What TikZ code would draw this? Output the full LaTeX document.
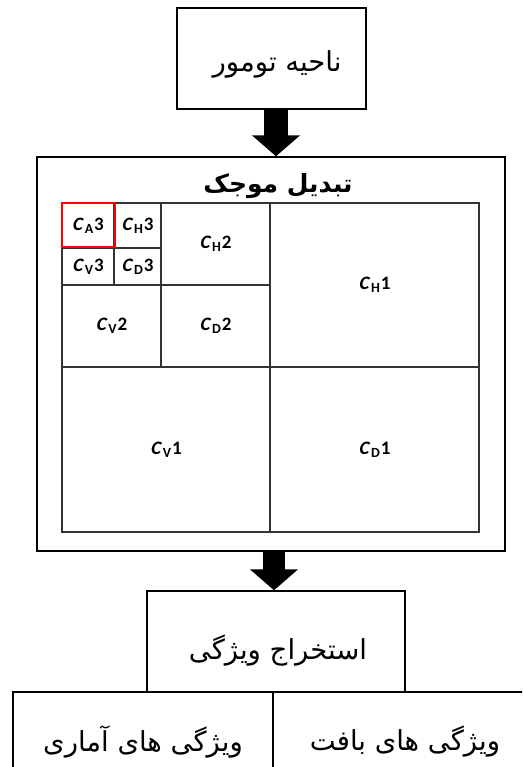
\documentclass[tikz,border=0pt]{standalone}
\usepackage{fontspec}
\usetikzlibrary{arrows.meta,calc}
\TeXXeTstate=1
\newfontfamily\fa[Script=Arabic]{DejaVu Sans}
\newfontfamily\cfont{Carlito}
\newfontfamily\cslant{Carlito}[UprightFeatures={FakeSlant=0.2}, BoldFeatures={FakeSlant=0.2}]
\newcommand{\cl}[2]{{\cfont\bfseries{\cslant\bfseries C}\kern2.6pt\raisebox{-0.3ex}{\fontsize{14}{14}\selectfont #1}\kern0.8pt#2}}
\tikzset{
  box/.style={draw=black, line width=1.4pt, inner sep=0pt},
  cell/.style={draw=black!80, line width=1.1pt, inner sep=0pt, font=\fontsize{19}{19}\selectfont},
  blockarrow/.style={line width=#1, -{Triangle[width=47pt,length=21pt]}},
  fatext/.style={font=\fa\fontsize{27.5}{30}\selectfont}
}
\begin{document}
\begin{tikzpicture}[x=1pt,y=-1pt]
\clip (0,0) rectangle (522,767);
\fill[white] (0,0) rectangle (522,767);
% top box
\node[box, minimum width=189pt, minimum height=101pt] (top) at (271.5,58.5) {};
\node[fatext] (topt) at (277,64) {\beginR ناحیه تومور\endR};
% big box
\node[box, minimum width=468pt, minimum height=394pt] (big) at (271,354) {};
\node[font=\fa\bfseries\fontsize{25}{28}\selectfont] (title) at (278,186) {\beginR تبدیل موجک\endR};
% cells
\node[cell, minimum width=52pt, minimum height=45pt] (ca3) at (88,225.5) {\cl{A}{3}};
\node[cell, minimum width=47pt, minimum height=45pt] (ch3) at (137.5,225.5) {\cl{H}{3}};
\node[cell, minimum width=52pt, minimum height=37pt] (cv3) at (88,266.5) {\cl{V}{3}};
\node[cell, minimum width=47pt, minimum height=37pt] (cd3) at (137.5,266.5) {\cl{D}{3}};
\node[cell, minimum width=109pt, minimum height=82pt] (ch2) at (215.5,244) {\cl{H}{2}};
\node[cell, minimum width=99pt, minimum height=82pt] (cv2) at (111.5,326) {\cl{V}{2}};
\node[cell, minimum width=109pt, minimum height=82pt] (cd2) at (215.5,326) {\cl{D}{2}};
\node[cell, minimum width=209pt, minimum height=164pt] (ch1) at (374.5,285) {\cl{H}{1}};
\node[cell, minimum width=208pt, minimum height=165pt] (cv1) at (166,449.5) {\cl{V}{1}};
\node[cell, minimum width=209pt, minimum height=165pt] (cd1) at (374.5,449.5) {\cl{D}{1}};
\node[draw=red, line width=2.8pt, minimum width=53pt, minimum height=44pt, inner sep=0pt] (red) at (88.5,225) {};
% feature box
\node[box, minimum width=258pt, minimum height=101pt] (feat) at (276,641.5) {};
\node[fatext] (featt) at (278,651) {\beginR استخراج ویژگی\endR};
\node[box, minimum width=260pt, minimum height=90pt] (stat) at (143,737) {};
\node[box, minimum width=260pt, minimum height=90pt] (tex) at (403,737) {};
\node[fatext] (statt) at (143,742) {\beginR ویژگی های آماری\endR};
\node[fatext] (text) at (405,742) {\beginR ویژگی های بافت\endR};
% arrows
\coordinate (a1s) at (276,0 |- top.south);
\coordinate (a1e) at (276,0 |- big.north);
\draw[blockarrow=24pt] (a1s) -- (a1e);
\coordinate (a2s) at (274,0 |- big.south);
\coordinate (a2e) at (274,0 |- feat.north);
\draw[blockarrow=22pt] (a2s) -- (a2e);
\end{tikzpicture}
\end{document}
